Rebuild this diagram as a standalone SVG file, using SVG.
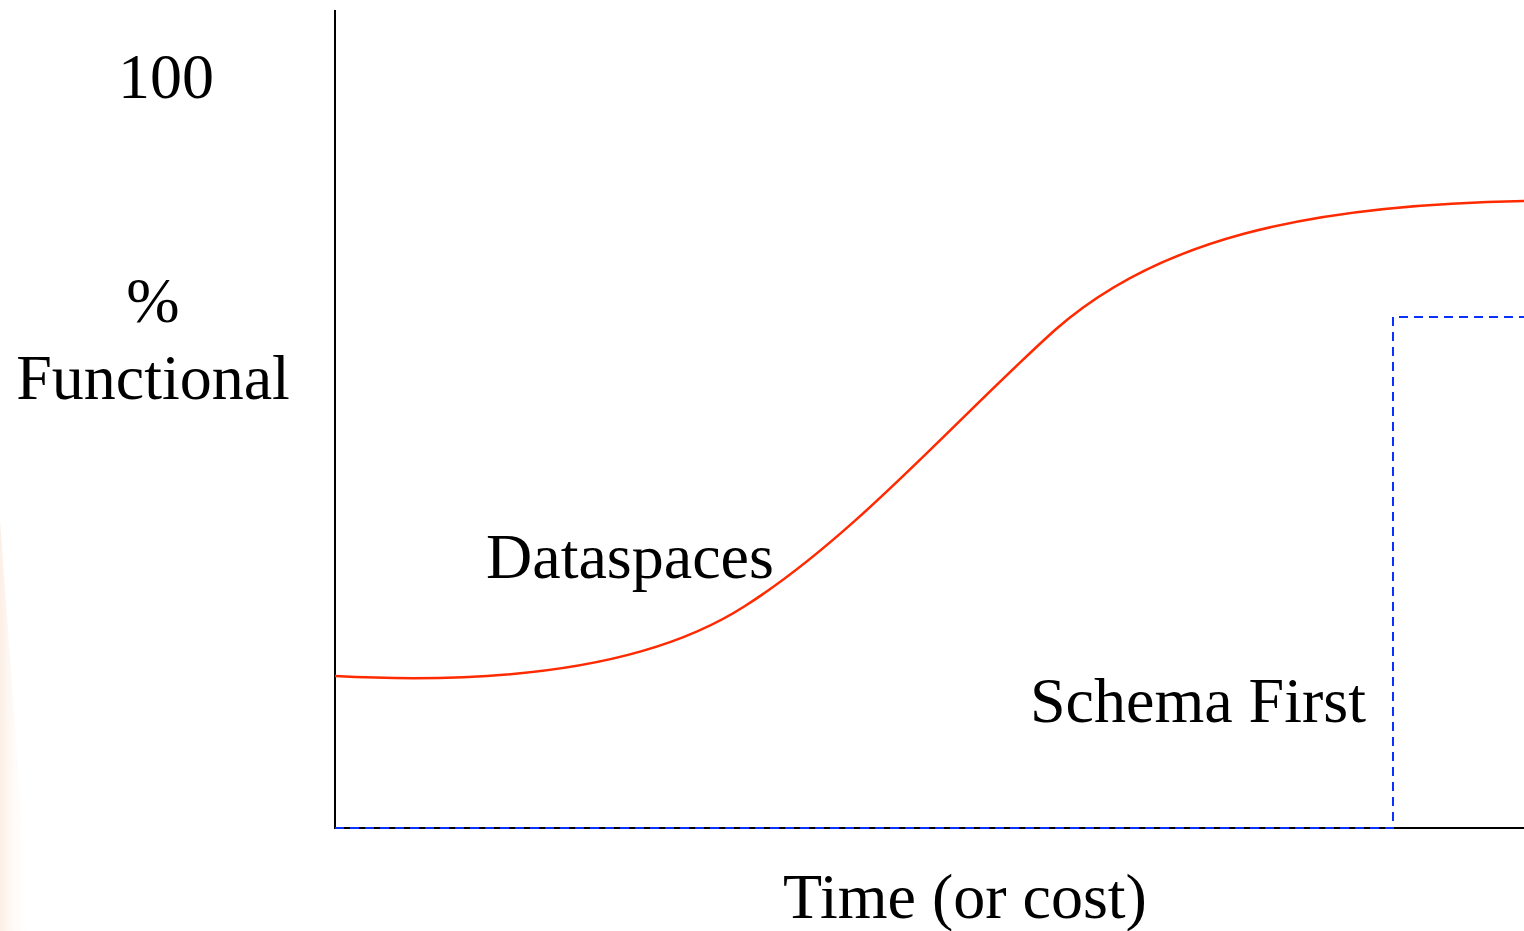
<svg xmlns="http://www.w3.org/2000/svg" width="1524" height="931" viewBox="0 0 1524 931">
<defs>
<style>
.t{font-family:"Liberation Serif","Times New Roman",serif;font-size:64px;fill:#000}
.axis{stroke:#000;stroke-width:2;fill:none}
.dash{stroke:#0a32ff;stroke-width:2;stroke-dasharray:9,6;fill:none}
.curve{stroke:#ff2a00;stroke-width:2.5;fill:none}
</style>
<linearGradient id="wedge" x1="0" y1="0" x2="1" y2="0">
<stop offset="0" stop-color="#fcefe5" stop-opacity="1"/>
<stop offset="1" stop-color="#ffffff" stop-opacity="0"/>
</linearGradient>
</defs>
<rect width="1524" height="931" fill="#fff"/>
<polygon points="0,520 0,931 30,931" fill="url(#wedge)"/>
<g id="axes">
<line class="axis" x1="335" y1="10" x2="335" y2="829"/>
<line class="axis" x1="334" y1="828" x2="1524" y2="828"/>
</g>
<g id="schema-first-line">
<polyline class="dash" points="335,828 1393,828 1393,317 1524,317"/>
</g>
<g id="dataspaces-curve">
<path class="curve" d="M335,676 C450,682 630,680 745,606 C855,536 955,420 1055,330 C1155,242 1300,205 1524,201"/>
</g>
<g id="labels">
<text class="t" x="166" y="98" text-anchor="middle">100</text>
<text class="t" x="153" y="322" text-anchor="middle">%</text>
<text class="t" x="153" y="399" text-anchor="middle">Functional</text>
<text class="t" x="486" y="578">Dataspaces</text>
<text class="t" x="1030" y="722">Schema First</text>
<text class="t" x="965" y="918" text-anchor="middle">Time (or cost)</text>
</g>
</svg>
